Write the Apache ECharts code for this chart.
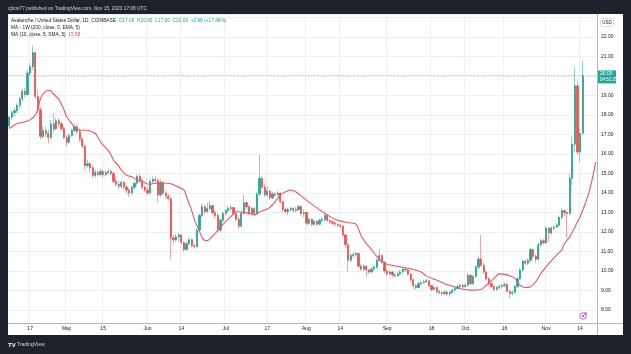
<!DOCTYPE html>
<html><head><meta charset="utf-8">
<script src="https://cdn.jsdelivr.net/npm/echarts@6/dist/echarts.min.js"></script>
<style>html,body{margin:0;padding:0;background:#1e222d}#c{width:631px;height:354px}</style>
</head><body><div id="c"></div>
<script>
// ---------- data ----------
const startDate = [2023, 3, 9];          // 9 Apr 2023 (month is 0-based)
const dayCount = 226;                    // 221 daily candles + 5 days of MA offset
const opens = [
17.45,17.88,18.12,18.22,18.5,18.82,19.22,19.05,20.15,20.48,
21.2,18.95,18.27,16.9,17.2,17.05,16.85,17.55,17.3,17.7,
17.55,17.3,16.85,16.6,16.95,17.2,17.4,17.15,16.75,16.4,
15.4,15.5,15.3,14.9,15.05,14.95,15.1,14.95,15.05,15.1,
15.0,14.6,14.45,14.35,14.55,14.3,14.15,14.0,14.3,14.5,
14.85,14.65,14.3,14.15,14.0,14.6,14.7,14.65,13.9,14.55,
14.0,13.85,13.7,11.7,11.6,11.75,11.85,11.45,11.1,11.4,
11.6,11.3,11.25,12.1,12.85,13.3,13.05,13.2,13.35,13.0,
12.85,12.1,12.6,12.95,13.1,13.2,13.25,12.95,12.65,12.3,
12.95,13.5,13.3,12.95,13.2,12.95,13.95,14.75,14.3,13.9,
14.1,13.75,13.95,13.9,14.0,13.55,13.15,13.05,13.15,13.2,
13.1,13.15,13.3,12.95,13.0,12.45,12.65,12.4,12.55,12.4,
12.6,12.65,12.85,12.6,12.52,12.45,12.4,12.35,12.3,11.85,
11.35,10.55,10.8,10.85,10.9,10.25,10.1,10.25,10.05,9.95,
10.1,10.2,10.55,10.8,10.45,10.0,9.85,9.95,9.8,9.75,
9.85,9.95,10.1,10.05,9.85,9.55,9.25,9.15,9.35,9.4,
9.45,9.5,9.25,9.05,9.15,8.95,8.9,8.85,8.92,8.82,
8.9,9.02,9.1,9.2,9.27,9.2,9.27,9.78,9.35,9.72,
10.2,10.62,10.3,9.95,9.6,9.35,9.2,9.05,9.15,9.2,
9.25,9.3,8.95,8.85,8.9,9.2,9.6,10.05,10.5,10.4,
10.55,11.1,10.75,10.6,11.35,11.55,11.45,12.2,11.95,12.2,
12.25,12.35,12.75,13.1,13.0,12.95,14.75,16.5,19.5,16.1,
17.06];
const closes = [
17.88,18.12,18.22,18.5,18.82,19.22,19.05,20.15,20.48,21.2,
18.95,18.27,16.9,17.2,17.05,16.85,17.55,17.3,17.7,17.55,
17.3,16.85,16.6,16.95,17.2,17.4,17.15,16.75,16.4,15.4,
15.5,15.3,14.9,15.05,14.95,15.1,14.95,15.05,15.1,15.0,
14.6,14.45,14.35,14.55,14.3,14.15,14.0,14.3,14.5,14.85,
14.65,14.3,14.15,14.0,14.6,14.7,14.65,13.9,14.55,14.0,
13.85,13.7,11.7,11.6,11.75,11.85,11.45,11.1,11.4,11.6,
11.3,11.25,12.1,12.85,13.3,13.05,13.2,13.35,13.0,12.85,
12.1,12.6,12.95,13.1,13.2,13.25,12.95,12.65,12.3,12.95,
13.5,13.3,12.95,13.2,12.95,13.95,14.75,14.3,13.9,14.1,
13.75,13.95,13.9,14.0,13.55,13.15,13.05,13.15,13.2,13.1,
13.15,13.3,12.95,13.0,12.45,12.65,12.4,12.55,12.4,12.6,
12.65,12.85,12.6,12.52,12.45,12.4,12.35,12.3,11.85,11.35,
10.55,10.8,10.85,10.9,10.25,10.1,10.25,10.05,9.95,10.1,
10.2,10.55,10.8,10.45,10.0,9.85,9.95,9.8,9.75,9.85,
9.95,10.1,10.05,9.85,9.55,9.25,9.15,9.35,9.4,9.45,
9.5,9.25,9.05,9.15,8.95,8.9,8.85,8.92,8.82,8.9,
9.02,9.1,9.2,9.27,9.2,9.27,9.78,9.35,9.72,10.2,
10.62,10.3,9.95,9.6,9.35,9.2,9.05,9.15,9.2,9.25,
9.3,8.95,8.85,8.9,9.2,9.6,10.05,10.5,10.4,10.55,
11.1,10.75,10.6,11.35,11.55,11.45,12.2,11.95,12.2,12.25,
12.35,12.75,13.1,13.0,12.95,14.75,16.5,19.5,16.1,17.06,
20.03];
const highs = [
17.95,18.25,18.35,18.6,18.95,19.35,19.4,20.3,20.7,21.55,
21.25,19.3,18.4,17.45,17.4,17.25,17.75,18.1,17.85,17.85,
17.65,17.4,16.95,17.05,17.3,17.55,17.5,17.3,16.85,16.5,
15.7,15.6,15.4,15.2,15.15,15.25,15.2,15.15,15.25,15.2,
15.1,14.75,14.6,14.65,14.6,14.4,14.25,14.4,14.6,14.95,
15.0,14.75,14.4,14.3,14.7,14.85,14.9,14.75,14.7,14.6,
14.1,13.95,13.8,11.85,11.9,11.95,11.9,11.55,11.5,11.7,
11.65,11.4,12.2,12.95,13.45,13.4,13.5,13.6,13.4,13.1,
12.95,12.7,13.05,13.2,13.35,13.4,13.3,13.0,12.75,13.1,
13.9,13.6,13.35,13.3,13.3,14.05,15.95,14.85,14.45,14.35,
14.15,14.05,14.05,14.1,14.05,13.6,13.25,13.25,13.3,13.25,
13.3,13.4,13.35,13.15,13.05,12.75,12.7,12.65,12.6,12.7,
12.75,13.05,12.9,12.65,12.6,12.55,12.45,12.4,12.35,11.9,
11.4,10.9,10.95,11.0,10.95,10.35,10.35,10.3,10.1,10.2,
10.3,10.65,11.15,10.85,10.5,10.1,10.05,10.0,9.9,9.95,
10.05,10.2,10.15,10.1,9.9,9.6,9.35,9.45,9.5,9.55,
9.6,9.55,9.3,9.25,9.2,9.05,8.95,9.0,8.98,8.98,
9.1,9.18,9.3,9.35,9.35,9.35,9.9,9.85,9.8,10.3,
10.75,11.85,10.4,10.0,9.7,9.45,9.25,9.25,9.3,9.35,
9.4,9.4,9.05,9.0,9.3,9.7,10.15,10.6,10.6,10.65,
11.2,11.15,10.85,11.45,11.65,11.65,12.3,12.25,12.3,12.35,
12.45,12.85,13.2,13.15,13.05,15.0,16.9,20.45,19.75,17.3,
20.80];
const lows = [
17.3,17.75,17.95,18.1,18.35,18.7,18.9,19.0,20.0,20.3,
18.8,18.1,16.75,16.8,16.85,16.55,16.75,17.1,17.2,17.4,
17.15,16.75,16.4,16.5,16.85,17.1,17.0,16.6,16.3,15.2,
15.3,15.1,14.75,14.8,14.85,14.85,14.8,14.85,14.95,14.9,
14.5,14.35,14.2,14.25,14.2,14.0,13.8,13.9,14.2,14.4,
14.5,14.2,14.05,13.9,13.95,14.5,14.5,13.5,13.8,13.9,
13.7,13.6,10.6,11.4,11.5,11.5,11.35,11.0,11.05,11.3,
11.2,11.15,11.2,12.0,12.75,12.9,12.95,13.1,12.9,12.7,
12.0,12.0,12.5,12.85,13.0,13.1,12.85,12.55,12.2,12.25,
12.9,13.2,12.85,12.85,12.85,12.9,13.85,14.2,13.8,13.8,
13.65,13.7,13.8,13.85,13.45,13.0,12.95,12.85,13.05,13.0,
13.0,13.1,12.85,12.75,12.35,12.35,12.3,12.3,12.3,12.35,
12.5,12.55,12.5,12.4,12.35,12.3,12.25,12.2,11.75,11.2,
9.95,10.45,10.7,10.75,10.15,10.0,10.0,9.7,9.85,9.9,
10.0,10.1,10.45,10.35,9.9,9.75,9.8,9.7,9.65,9.7,
9.8,9.9,9.95,9.75,9.45,9.05,9.05,9.1,9.3,9.35,
9.4,9.15,8.95,9.0,8.85,8.8,8.75,8.75,8.72,8.65,
8.85,8.95,9.05,9.1,9.12,9.12,9.2,9.25,9.3,9.65,
10.1,10.2,9.85,9.5,9.25,9.1,8.95,9.0,9.05,9.1,
9.15,8.9,8.6,8.75,8.85,9.15,9.55,9.95,10.3,10.3,
10.45,10.6,10.4,10.55,11.25,11.35,11.4,11.5,11.85,12.1,
12.2,12.3,12.65,12.8,11.7,12.9,14.4,16.1,15.95,15.6,
17.00];
// MA (10, close, 5, SMA, 5): day index -> value
const maDays = [0,3,6,8,10,11,12,13,15,16,17,19,20,21,22,24,25,26,28,30,31,33,34,35,36,38,39,40,42,43,44,45,47,48,49,51,52,53,54,56,59,61,64,67,68,69,70,71,73,74,75,76,77,79,81,83,85,87,88,90,92,94,96,98,100,102,104,106,108,110,112,115,120,125,129,133,135,137,139,141,143,145,150,155,158,160,163,165,167,169,173,177,181,183,186,188,191,194,196,198,200,202,204,206,208,210,212,213,215,217,219,221,223,225];
const maValues = [17.3,17.56,17.65,17.75,18.0,18.34,18.85,19.1,19.27,19.24,19.07,18.8,18.55,18.26,17.91,17.56,17.36,17.26,17.22,17.22,17.19,17.05,16.85,16.63,16.45,16.17,15.95,15.68,15.38,15.17,15.03,14.91,14.83,14.75,14.67,14.58,14.53,14.46,14.44,14.5,14.5,14.5,14.36,14.15,13.8,13.45,13.1,12.65,12.02,11.7,11.58,11.56,11.66,11.93,12.24,12.53,12.79,13.04,13.04,12.99,12.96,12.87,13.04,13.13,13.26,13.56,13.9,14.07,14.15,14.05,13.85,13.53,13.05,12.65,12.5,12.4,11.8,11.4,11.1,10.75,10.5,10.35,10.22,10.08,9.95,9.75,9.58,9.48,9.35,9.27,9.1,9.02,9.05,9.27,9.62,9.85,9.8,9.62,9.27,9.15,9.19,9.45,9.88,10.22,10.53,10.81,11.1,11.41,11.75,12.26,12.78,13.46,14.32,15.58];
const tickDates  = ['2023-04-17','2023-05-01','2023-05-15','2023-06-01','2023-06-14','2023-07-01','2023-07-17','2023-08-01','2023-08-14','2023-09-01','2023-09-18','2023-10-01','2023-10-16','2023-11-01','2023-11-14'];
const tickLabels = ['17','May','15','Jun','14','Jul','17','Aug','14','Sep','18','Oct','16','Nov','14'];
const changeAbs = '+2.98', changePct = '+17.48%', maLast = '15.58', countdown = '04:51:35';
const yMin = 7.3333, yMax = 23.1795;

// ---------- build ----------
const FONT = '"Liberation Sans", Arial, sans-serif';
const dates = [];
const t0 = Date.UTC(startDate[0], startDate[1], startDate[2]);
for (let k = 0; k < dayCount; k++) dates.push(new Date(t0 + k * 86400000).toISOString().slice(0, 10));
const tickIndex = {};
tickDates.forEach((d, k) => { tickIndex[dates.indexOf(d)] = tickLabels[k]; });

const n = closes.length;
const wickData = [], bodyData = [];
for (let k = 0; k < n; k++) {
  wickData.push([opens[k], closes[k], lows[k], highs[k]]);
  bodyData.push([opens[k], closes[k], Math.min(opens[k], closes[k]), Math.max(opens[k], closes[k])]);
}
const maSeries = new Array(dayCount).fill('-');
maDays.forEach((d, k) => { maSeries[d] = maValues[k]; });
const lastO = opens[n-1].toFixed(2), lastH = highs[n-1].toFixed(2), lastL = lows[n-1].toFixed(2), lastC = closes[n-1].toFixed(2);

const UP = '#26a69a', DOWN = '#ef5350', TXT = '#131722';
const chart = echarts.init(document.getElementById('c'), null, {width: 631, height: 354});
chart.setOption({
  animation: false,
  backgroundColor: '#1e222d',
  textStyle: {fontFamily: FONT},
  grid: {left: 8, right: 34, top: 14, bottom: 31, outerBoundsMode: 'none'},
  xAxis: {
    type: 'category', data: dates, boundaryGap: true,
    axisLine: {show: false}, axisTick: {show: false},
    axisLabel: {interval: (i) => i in tickIndex, formatter: (v, i) => tickIndex[i] || '', fontSize: 5, color: TXT, margin: 3, fontFamily: FONT},
    splitLine: {show: true, interval: (i) => i in tickIndex, lineStyle: {color: '#eceff5', width: 1}}
  },
  yAxis: {
    type: 'value', position: 'right', min: yMin, max: yMax, splitNumber: 16,
    axisLine: {show: false}, axisTick: {show: false},
    axisLabel: {fontSize: 5, color: TXT, margin: 4, align: 'left', fontFamily: FONT,
      formatter: (v) => (v > 7.9 && v < 22.1) ? v.toFixed(2) : ''},
    splitLine: {show: true, lineStyle: {color: '#eceff5', width: 1}}
  },
  series: [
    {type: 'candlestick', name: 'wicks', data: wickData, barWidth: 1, z: 3,
      itemStyle: {color: '#8ccfc7', color0: '#f5a5a3', borderColor: '#8ccfc7', borderColor0: '#f5a5a3', borderWidth: 1}},
    {type: 'candlestick', name: 'bodies', data: bodyData, barWidth: 1.7, z: 4,
      itemStyle: {color: UP, color0: DOWN, borderColor: UP, borderColor0: DOWN, borderWidth: 0.8},
      markLine: {silent: true, symbol: ['none', 'none'], label: {show: false},
        lineStyle: {color: '#7fcac2', type: [1, 1.5], width: 1}, data: [{yAxis: closes[n-1]}]}},
    {type: 'line', name: 'MA', data: maSeries, connectNulls: true, smooth: 0.3, showSymbol: false, symbol: 'none', z: 6,
      lineStyle: {color: '#f0545a', width: 1.1}}
  ],
  graphic: [
    {type: 'rect', z: -10, silent: true, shape: {x: 8, y: 14, width: 615, height: 321}, style: {fill: '#ffffff'}},
    {type: 'line', z: 20, silent: true, shape: {x1: 597.5, y1: 14, x2: 597.5, y2: 335}, style: {stroke: '#b2b5be', lineWidth: 1}},
    {type: 'line', z: 20, silent: true, shape: {x1: 8, y1: 323.5, x2: 623, y2: 323.5}, style: {stroke: '#b2b5be', lineWidth: 1}},
    {type: 'text', z: 20, x: 8, y: 9, style: {text: 'cjbon77 published on TradingView.com, Nov 15, 2023 17:08 UTC', fill: '#d1d4dc', fontSize: 4.8, fontFamily: FONT, verticalAlign: 'middle'}},
    {type: 'text', z: 20, x: 11, y: 20.5, style: {
      text: '{a|Avalanche / United States Dollar, 1D, COINBASE}  {b|O' + lastO + '}  {b|H' + lastH + '}  {b|L' + lastL + '}  {b|C' + lastC + '}  {b|' + changeAbs + ' (' + changePct + ')}',
      fontSize: 4.8, fontFamily: FONT, verticalAlign: 'middle',
      rich: {a: {fill: TXT, fontSize: 4.8, fontFamily: FONT}, b: {fill: UP, fontSize: 4.8, fontFamily: FONT}}}},
    {type: 'text', z: 20, x: 11, y: 27.5, style: {text: 'MA - 1W (200, close, 0, EMA, 5)', fill: TXT, fontSize: 4.8, fontFamily: FONT, verticalAlign: 'middle'}},
    {type: 'text', z: 20, x: 11, y: 34.5, style: {
      text: '{a|MA (10, close, 5, SMA, 5)}  {b|' + maLast + '}', fontSize: 4.8, fontFamily: FONT, verticalAlign: 'middle',
      rich: {a: {fill: TXT, fontSize: 4.8, fontFamily: FONT}, b: {fill: '#f23645', fontSize: 4.8, fontFamily: FONT}}}},
    {type: 'rect', z: 20, shape: {x: 600.5, y: 18.5, width: 13, height: 8, r: 1}, style: {fill: '#fff', stroke: '#d9dce3', lineWidth: 1}},
    {type: 'text', z: 21, x: 607, y: 22.7, style: {text: 'USD', fill: TXT, fontSize: 4.5, fontFamily: FONT, align: 'center', verticalAlign: 'middle'}},
    {type: 'circle', z: 20, shape: {cx: 583, cy: 316, r: 3.3}, style: {fill: '#f6eafd', stroke: '#c36ee8', lineWidth: 1}},
    {type: 'circle', z: 21, shape: {cx: 583, cy: 316, r: 1.2}, style: {fill: '#c36ee8'}},
    {type: 'circle', z: 22, shape: {cx: 585.6, cy: 313.4, r: 1.1}, style: {fill: '#f23645'}},
    {type: 'text', z: 20, x: 8, y: 345, style: {text: '{b|TV} TradingView', fill: '#d1d4dc', fontSize: 5, fontFamily: FONT, verticalAlign: 'middle',
      rich: {b: {fill: '#ffffff', fontSize: 6, fontWeight: 'bold', fontFamily: FONT}}}}
  ]
});
// current price label on the price scale, placed through the axis scale
const py = chart.convertToPixel({yAxisIndex: 0}, closes[n-1]);
chart.setOption({graphic: [
  {type: 'rect', id: 'pbox', z: 30, shape: {x: 598, y: py - 5, width: 18, height: 13}, style: {fill: UP}},
  {type: 'text', id: 'pt1', z: 31, x: 600, y: py - 1.5, style: {text: lastC, fill: '#fff', fontSize: 5, fontFamily: FONT, verticalAlign: 'middle'}},
  {type: 'text', id: 'pt2', z: 31, x: 600, y: py + 4.3, style: {text: countdown, fill: '#fff', fontSize: 4.5, fontFamily: FONT, verticalAlign: 'middle'}}
]});
</script></body></html>
